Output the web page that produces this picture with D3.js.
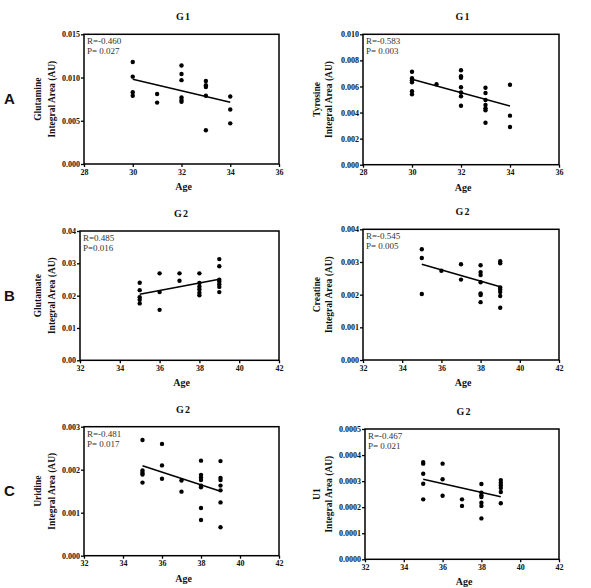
<!DOCTYPE html>
<html>
<head>
<meta charset="utf-8">
<script src="https://cdn.jsdelivr.net/npm/d3@7"></script>
<style>
  body { margin: 0; background: #fff; }
  svg { display: block; }
</style>
</head>
<body>
<svg id="chart" width="591" height="588"></svg>
<script>
// values: [age, integral area]
const glutamine = [
  [30, 0.0118], [30, 0.0101], [30, 0.0083], [30, 0.0079],
  [31, 0.0081], [31, 0.0071],
  [32, 0.0114], [32, 0.0104], [32, 0.0097], [32, 0.0077], [32, 0.0074], [32, 0.0072],
  [33, 0.0096], [33, 0.0091], [33, 0.0089], [33, 0.0079], [33, 0.0039],
  [34, 0.0078], [34, 0.0063], [34, 0.0047]
];
const tyrosine = [
  [30, 0.00713], [30, 0.00663], [30, 0.00647], [30, 0.00632], [30, 0.00563], [30, 0.0054],
  [31, 0.00617],
  [32, 0.00724], [32, 0.00678], [32, 0.00667], [32, 0.00594], [32, 0.00555], [32, 0.00525], [32, 0.00452],
  [33, 0.0059], [33, 0.0055], [33, 0.00496], [33, 0.00458], [33, 0.00432], [33, 0.00417], [33, 0.00322],
  [34, 0.00613], [34, 0.00376], [34, 0.00289]
];
const glutamate = [
  [35, 0.0240], [35, 0.0217], [35, 0.0195], [35, 0.0187], [35, 0.0176],
  [36, 0.0269], [36, 0.0211], [36, 0.0156],
  [37, 0.0269], [37, 0.0246],
  [38, 0.0269], [38, 0.0239], [38, 0.0228], [38, 0.0220], [38, 0.0209], [38, 0.0201],
  [39, 0.0313], [39, 0.0291], [39, 0.0249], [39, 0.0243], [39, 0.0235], [39, 0.0227], [39, 0.0211]
];
const creatine = [
  [35, 0.00339], [35, 0.00312], [35, 0.00202],
  [36, 0.00273],
  [37, 0.00293], [37, 0.00246],
  [38, 0.0029], [38, 0.00269], [38, 0.0026], [38, 0.00238], [38, 0.00204], [38, 0.00199], [38, 0.00177],
  [39, 0.00302], [39, 0.00296], [39, 0.00222], [39, 0.00216], [39, 0.00208], [39, 0.00196], [39, 0.0016]
];
const uridine = [
  [35, 0.00269], [35, 0.00198], [35, 0.00193], [35, 0.00189], [35, 0.0017],
  [36, 0.0026], [36, 0.0021], [36, 0.00179],
  [37, 0.00175], [37, 0.00149],
  [38, 0.00221], [38, 0.00188], [38, 0.00182], [38, 0.00176], [38, 0.00163], [38, 0.00159], [38, 0.00111], [38, 0.00083],
  [39, 0.0022], [39, 0.00181], [39, 0.00176], [39, 0.00163], [39, 0.00152], [39, 0.00124], [39, 0.00066]
];
const u1 = [
  [35, 0.000373], [35, 0.000367], [35, 0.000328], [35, 0.00029], [35, 0.00023],
  [36, 0.000367], [36, 0.000307], [36, 0.000244],
  [37, 0.00023], [37, 0.000205],
  [38, 0.000289], [38, 0.000256], [38, 0.000246], [38, 0.000239], [38, 0.000217], [38, 0.000205], [38, 0.000157],
  [39, 0.000304], [39, 0.000294], [39, 0.000284], [39, 0.000274], [39, 0.000258], [39, 0.000215]
];

// regression line end points as drawn
const fitGlutamine = [[30, 0.0098], [34, 0.00714]];
const fitTyrosine = [[30, 0.00655], [34, 0.0045]];
const fitGlutamate = [[35, 0.0204], [39, 0.0251]];
const fitCreatine = [[35, 0.00293], [39, 0.00224]];
const fitUridine = [[35, 0.00209], [39, 0.0015]];
const fitU1 = [[35, 0.000307], [39, 0.00024]];

// axis ticks
const xTicksG1 = [28, 30, 32, 34, 36];
const xTicksG2 = [32, 34, 36, 38, 40, 42];
const yTicksGlutamine = [0, 0.005, 0.010, 0.015];
const yTicksTyrosine = [0, 0.002, 0.004, 0.006, 0.008, 0.010];
const yTicksGlutamate = [0, 0.01, 0.02, 0.03, 0.04];
const yTicksCreatine = [0, 0.001, 0.002, 0.003, 0.004];
const yTicksUridine = [0, 0.001, 0.002, 0.003];
const yTicksU1 = [0, 0.0001, 0.0002, 0.0003, 0.0004, 0.0005];

const panels = [
  { group: "G1", name: "Glutamine", pts: glutamine, fit: fitGlutamine, xt: xTicksG1, yt: yTicksGlutamine, dec: 3, r: "R=-0.460", p: "P= 0.027",
    box: [84, 34.3, 279, 164], letter: "A" },
  { group: "G1", name: "Tyrosine", pts: tyrosine, fit: fitTyrosine, xt: xTicksG1, yt: yTicksTyrosine, dec: 3, r: "R=-0.583", p: "P= 0.003",
    box: [363, 34.3, 559, 164.7] },
  { group: "G2", name: "Glutamate", pts: glutamate, fit: fitGlutamate, xt: xTicksG2, yt: yTicksGlutamate, dec: 2, r: "R=0.485", p: "P=0.016",
    box: [80, 231, 279, 360.3], letter: "B" },
  { group: "G2", name: "Creatine", pts: creatine, fit: fitCreatine, xt: xTicksG2, yt: yTicksCreatine, dec: 3, r: "R=-0.545", p: "P= 0.005",
    box: [363, 229.3, 559, 360] },
  { group: "G2", name: "Uridine", pts: uridine, fit: fitUridine, xt: xTicksG2, yt: yTicksUridine, dec: 3, r: "R=-0.481", p: "P= 0.017",
    box: [84, 426.7, 279, 555.7], letter: "C" },
  { group: "G2", name: "U1", pts: u1, fit: fitU1, xt: xTicksG2, yt: yTicksU1, dec: 4, r: "R=-0.467", p: "P= 0.021",
    box: [365, 429, 559, 559.3] }
];

const svg = d3.select("#chart");
const serif = "'Liberation Serif', 'Times New Roman', serif";

panels.forEach((pn, i) => {
  const [x0, y0, x1, y1] = pn.box;
  const leftCol = i % 2 === 0;
  const g = svg.append("g");

  const x = d3.scaleLinear()
    .domain([pn.xt[0], pn.xt[pn.xt.length - 1]])
    .range([x0, x1]);
  const y = d3.scaleLinear()
    .domain([0, pn.yt[pn.yt.length - 1]])
    .range([y1, y0]);

  // axes
  const xa = g.append("g")
    .attr("transform", `translate(0,${y1})`)
    .call(d3.axisBottom(x).tickValues(pn.xt).tickSize(3).tickPadding(2).tickFormat(d3.format("d")));
  const ya = g.append("g")
    .attr("transform", `translate(${x0},0)`)
    .call(d3.axisLeft(y).tickValues(pn.yt).tickSize(3).tickPadding(1).tickFormat(d3.format(`.${pn.dec}f`)));
  [xa, ya].forEach(a => {
    a.select(".domain").remove();
    a.selectAll("line").attr("stroke", "#000").attr("stroke-width", 1.3);
    a.selectAll("text")
      .attr("fill", "#111")
      .style("font-family", serif)
      .style("font-weight", "bold")
      .style("font-size", "8px");
  });

  // frame
  g.append("rect")
    .attr("x", x0).attr("y", y0)
    .attr("width", x1 - x0).attr("height", y1 - y0)
    .attr("fill", "none")
    .attr("stroke", "#000")
    .attr("stroke-width", 1.5);

  // points
  g.selectAll("circle")
    .data(pn.pts)
    .join("circle")
    .attr("cx", d => x(d[0]))
    .attr("cy", d => y(d[1]))
    .attr("r", 2.2)
    .attr("fill", "#000");

  // fit line
  g.append("path")
    .attr("d", d3.line().x(d => x(d[0])).y(d => y(d[1]))(pn.fit))
    .attr("stroke", "#000")
    .attr("stroke-width", 1.5)
    .attr("fill", "none");

  // R / P
  [[10, pn.r], [20, pn.p]].forEach(([dy, t]) => {
    g.append("text")
      .attr("x", x0 + 3).attr("y", y0 + dy)
      .attr("fill", "#333")
      .style("font-family", serif)
      .style("font-size", "9px")
      .text(t);
  });

  const cx = (x0 + x1) / 2 + 2;

  // title
  g.append("text")
    .attr("x", cx).attr("y", y0 - 14)
    .attr("text-anchor", "middle")
    .style("font-family", serif)
    .style("font-weight", "bold")
    .style("font-size", "10px")
    .style("letter-spacing", "1px")
    .attr("fill", "#111")
    .text(pn.group);

  // x label
  g.append("text")
    .attr("x", cx).attr("y", y1 + 26)
    .attr("text-anchor", "middle")
    .style("font-family", serif)
    .style("font-weight", "bold")
    .style("font-size", "10px")
    .attr("fill", "#111")
    .text("Age");

  // y label, two lines
  const ym = (y0 + y1) / 2;
  const lx1 = leftCol ? 38 : 316.5;
  const lx2 = leftCol ? 51.5 : 329;
  [[lx1, pn.name], [lx2, "Integral Area (AU)"]].forEach(([lx, t]) => {
    g.append("text")
      .attr("transform", `translate(${lx + 3},${ym}) rotate(-90)`)
      .attr("text-anchor", "middle")
      .style("font-family", serif)
      .style("font-weight", "bold")
      .style("font-size", "9.5px")
      .attr("fill", "#111")
      .text(t);
  });

  // row letter
  if (pn.letter) {
    g.append("text")
      .attr("x", 9.5).attr("y", ym + 5)
      .attr("text-anchor", "middle")
      .style("font-family", "'Liberation Sans', Arial, sans-serif")
      .style("font-weight", "bold")
      .style("font-size", "15px")
      .attr("fill", "#111")
      .text(pn.letter);
  }
});
</script>
</body>
</html>
